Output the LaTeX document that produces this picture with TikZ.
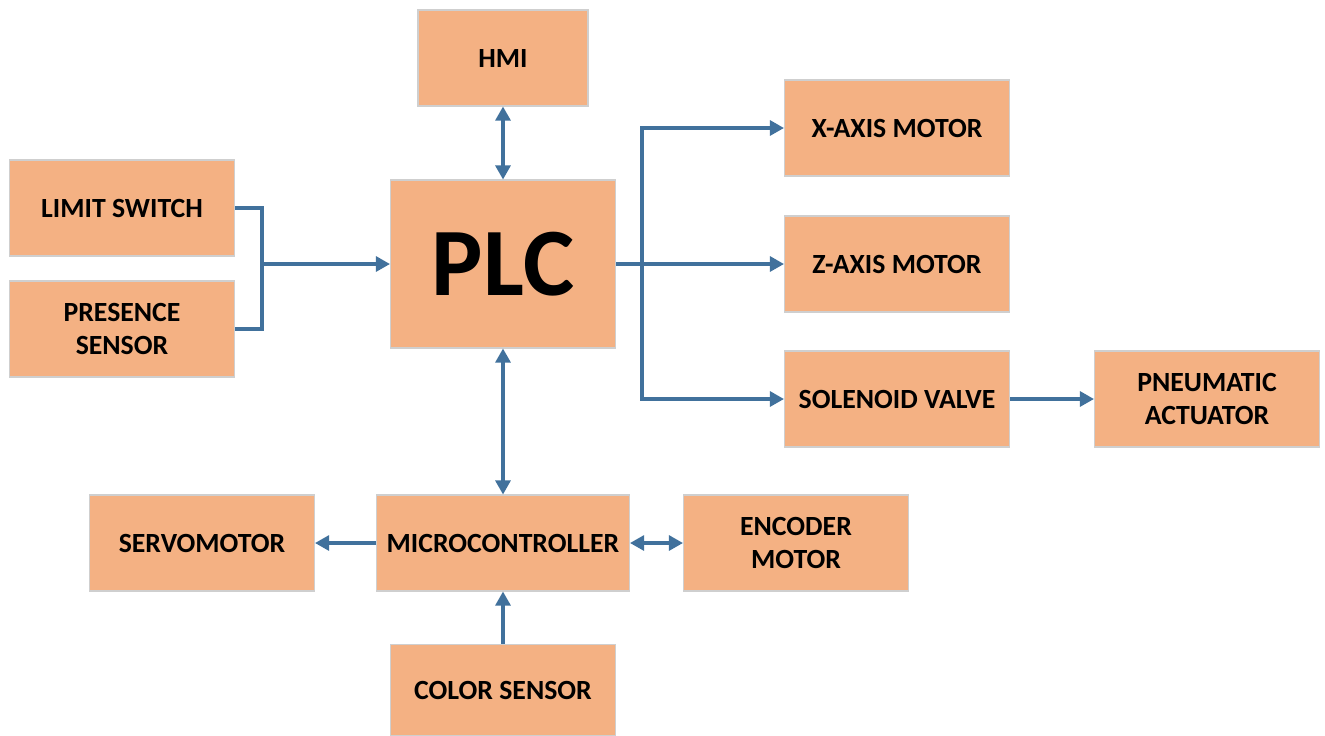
\documentclass[tikz,border=0pt]{standalone}
\usepackage{fontspec}
\setmainfont{Carlito}
\usetikzlibrary{arrows.meta}
\definecolor{blockfill}{HTML}{F4B183}
\definecolor{blockline}{HTML}{CFCFCF}
\definecolor{wire}{HTML}{41719C}
\tikzset{
  unit/.style={draw=blockline, line width=0.6pt, fill=blockfill, minimum width=4.5cm, minimum height=1.92cm,
    align=center, font=\fontsize{15.8}{18.7}\selectfont\bfseries, inner sep=2pt},
  link/.style={draw=wire, line width=1.8pt, -{Triangle[length=8pt,width=8.5pt]}},
  dlink/.style={link, {Triangle[length=8pt,width=8.5pt]}-{Triangle[length=8pt,width=8.5pt]}}
}
\begin{document}
\begin{tikzpicture}[x=0.02cm,y=-0.02cm]
    \useasboundingbox (0,0) rectangle (1325,735);
    \node [unit, minimum width=3.4cm] (hmi) at (503,58) {HMI};
    \node [unit, minimum height=3.36cm, font=\fontsize{55}{60}\selectfont\bfseries] (plc) at (503,264) {PLC};
    \node [unit] (limit) at (122,208) {LIMIT SWITCH};
    \node [unit] (presence) at (122,329) {PRESENCE\\SENSOR};
    \node [unit] (xmotor) at (897,128) {X-AXIS MOTOR};
    \node [unit] (zmotor) at (897,264) {Z-AXIS MOTOR};
    \node [unit] (valve) at (897,399) {SOLENOID VALVE};
    \node [unit] (actuator) at (1207,399) {PNEUMATIC\\ACTUATOR};
    \node [unit, minimum width=5.06cm] (micro) at (503,543) {MICROCONTROLLER};
    \node [unit] (servo) at (202,543) {SERVOMOTOR};
    \node [unit] (encoder) at (796,543) {ENCODER\\MOTOR};
    \node [unit, minimum height=1.82cm] (color) at (503,690) {COLOR SENSOR};
    % inputs to the PLC
    \coordinate (join) at (262,264);
    \draw [draw=wire, line width=1.8pt] (limit.east) -| (join) |- (presence.east);
    \draw [link] (join) -- (plc.west);
    % outputs of the PLC
    \coordinate (fork) at (642,264);
    \draw [link] (plc.east) -- (zmotor.west);
    \draw [link] (fork) |- (xmotor.west);
    \draw [link] (fork) |- (valve.west);
    \draw [link] (valve) -- (actuator);
    % two-way links
    \draw [dlink] (hmi) -- (plc);
    \draw [dlink] (plc) -- (micro);
    \draw [dlink] (micro) -- (encoder);
    \draw [link] (micro) -- (servo);
    \draw [link] (color) -- (micro);
\end{tikzpicture}
\end{document}
